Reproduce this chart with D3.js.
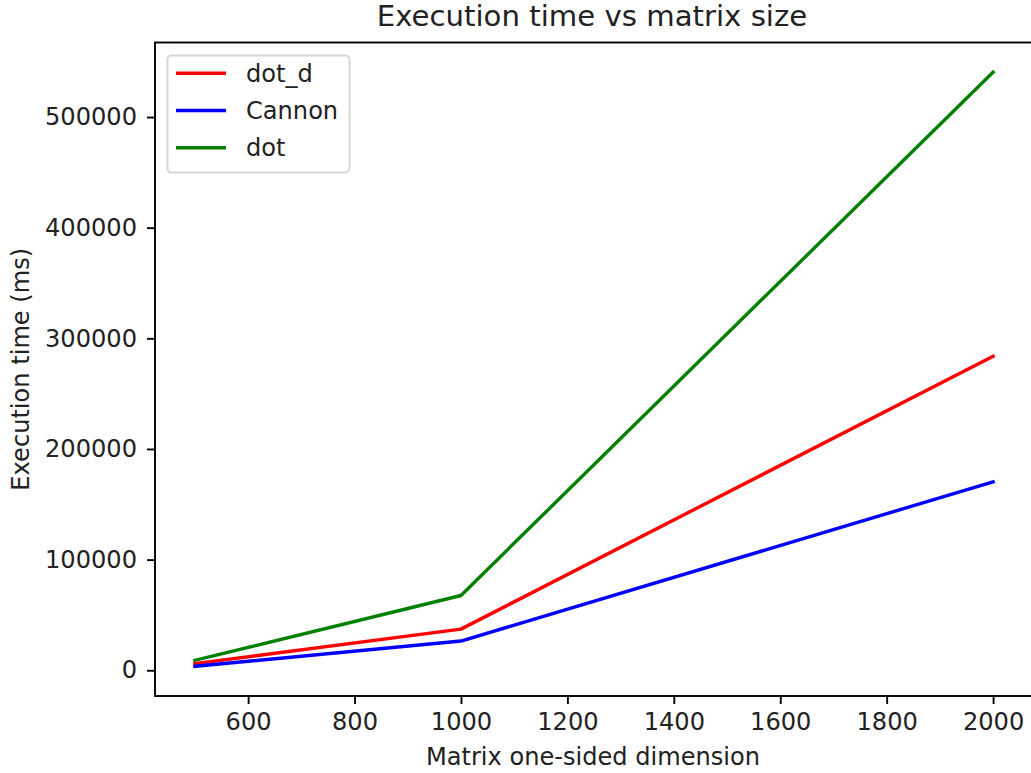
<!DOCTYPE html>
<html>
<head>
<meta charset="utf-8">
<script src="https://cdn.jsdelivr.net/npm/d3@7"></script>
<style>
    body { margin: 0; background: #fff; }
    svg { display: block; font-family: 'DejaVu Sans', sans-serif; }
</style>
</head>
<body>
<div id="chart"></div>
<script>
'use strict';

var sizes = [500, 1000, 2000];
var dotD = [6000, 37200, 283800];
var cannon = [3600, 26400, 170300];
var dot = [9000, 67600, 540500];
var xTicks = [600, 800, 1000, 1200, 1400, 1600, 1800, 2000];
var yTicks = [0, 100000, 200000, 300000, 400000, 500000];

var series = [
    {name: 'dot_d', values: dotD, color: '#ff0000'},
    {name: 'Cannon', values: cannon, color: '#0000ff'},
    {name: 'dot', values: dot, color: '#008000'}
];

var width = 1031, height = 773;
var axLeft = 155, axRight = 1033, axTop = 42.5, axBottom = 696;
var fontSize = '24.1px';

var svg = d3.select('#chart')
    .append('svg')
    .attr('width', width)
    .attr('height', height);

// matplotlib style 5% margins
var xMin = d3.min(sizes), xMax = d3.max(sizes);
var xPad = (xMax - xMin) * 0.05;
var allY = dotD.concat(cannon, dot);
var yMin = d3.min(allY), yMax = d3.max(allY);
var yPad = (yMax - yMin) * 0.05;

var x = d3.scaleLinear().domain([xMin - xPad, xMax + xPad]).range([axLeft, axRight]);
var y = d3.scaleLinear().domain([yMin - yPad, yMax + yPad]).range([axBottom, axTop]);

// lines
var line = d3.line()
    .x(function (d, i) { return x(sizes[i]); })
    .y(function (d) { return y(d); });

svg.selectAll('path.series')
    .data(series)
    .enter().append('path')
    .attr('class', 'series')
    .attr('d', function (d) { return line(d.values); })
    .attr('fill', 'none')
    .attr('stroke', function (d) { return d.color; })
    .attr('stroke-width', 3.4)
    .attr('stroke-linecap', 'square')
    .attr('stroke-linejoin', 'round');

// axes
var xAxis = d3.axisBottom(x).tickValues(xTicks).tickSize(8).tickPadding(9)
    .tickFormat(d3.format('d'));
var yAxis = d3.axisLeft(y).tickValues(yTicks).tickSize(8).tickPadding(10)
    .tickFormat(d3.format('d'));

var gx = svg.append('g')
    .attr('transform', 'translate(0,' + axBottom + ')')
    .call(xAxis);
var gy = svg.append('g')
    .attr('transform', 'translate(' + axLeft + ',0)')
    .call(yAxis);

[gx, gy].forEach(function (g) {
    g.select('.domain').remove();
    g.selectAll('.tick line').attr('stroke', '#000').attr('stroke-width', 1.9);
    g.selectAll('.tick text')
        .attr('fill', '#222')
        .style('font-family', "'DejaVu Sans', sans-serif")
        .style('font-size', fontSize);
});
gx.selectAll('.tick text').attr('dy', '0.72em');

// frame
svg.append('rect')
    .attr('x', axLeft)
    .attr('y', axTop)
    .attr('width', axRight - axLeft)
    .attr('height', axBottom - axTop)
    .attr('fill', 'none')
    .attr('stroke', '#000')
    .attr('stroke-width', 1.9);

// title and labels
svg.append('text')
    .attr('x', 592)
    .attr('y', 26)
    .attr('text-anchor', 'middle')
    .attr('fill', '#222')
    .style('font-size', '29.2px')
    .text('Execution time vs matrix size');

svg.append('text')
    .attr('x', (axLeft + axRight) / 2 - 1)
    .attr('y', 765)
    .attr('text-anchor', 'middle')
    .attr('fill', '#222')
    .style('font-size', fontSize)
    .text('Matrix one-sided dimension');

svg.append('text')
    .attr('transform', 'translate(29,' + ((axTop + axBottom) / 2) + ') rotate(-90)')
    .attr('text-anchor', 'middle')
    .attr('fill', '#222')
    .style('font-size', fontSize)
    .text('Execution time (ms)');

// legend
var legend = svg.append('g');
legend.append('rect')
    .attr('x', 167.5)
    .attr('y', 55.5)
    .attr('width', 182)
    .attr('height', 117)
    .attr('rx', 4)
    .attr('fill', '#fff')
    .attr('fill-opacity', 0.8)
    .attr('stroke', '#d6d6d6')
    .attr('stroke-width', 1.9);

var rows = legend.selectAll('g.row')
    .data(series)
    .enter().append('g')
    .attr('class', 'row')
    .attr('transform', function (d, i) { return 'translate(0,' + (73.3 + i * 37.2) + ')'; });

rows.append('line')
    .attr('x1', 176)
    .attr('x2', 226)
    .attr('stroke', function (d) { return d.color; })
    .attr('stroke-width', 3.4);

rows.append('text')
    .attr('x', 246)
    .attr('dy', '0.35em')
    .attr('fill', '#222')
    .style('font-size', fontSize)
    .text(function (d) { return d.name; });
</script>
</body>
</html>
